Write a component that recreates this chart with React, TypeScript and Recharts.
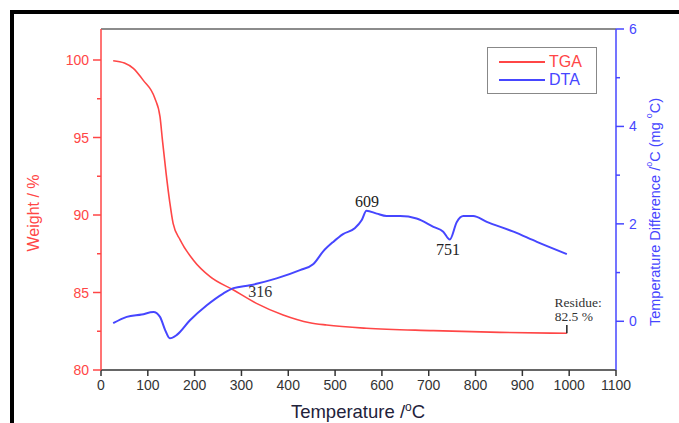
import React from "react";
import {
  ComposedChart,
  Line,
  XAxis,
  YAxis,
  Legend,
  ReferenceLine,
  ReferenceDot,
} from "recharts";

// TGA curve (weight %)
const tgaTemp = [26, 50, 69, 90, 115, 126, 131, 139, 147, 154, 169, 197, 233, 283, 332, 389, 446, 482, 567, 710, 852, 995];
const tgaWeight = [99.95, 99.8, 99.46, 98.7, 97.53, 96.34, 94.9, 92.7, 90.8, 89.46, 88.4, 87.1, 86.02, 85.16, 84.3, 83.55, 83.05, 82.9, 82.69, 82.54, 82.43, 82.37];

// DTA curve (temperature difference)
const dtaTemp = [26, 55, 87, 112, 126, 137, 147, 162, 190, 226, 261, 283, 318, 375, 425, 453, 475, 496, 517, 542, 557, 567, 589, 610, 639, 674, 710, 731, 745, 760, 774, 795, 824, 881, 931, 995];
const dtaDiff = [-0.04, 0.09, 0.14, 0.19, 0.09, -0.18, -0.35, -0.28, 0.02, 0.33, 0.57, 0.68, 0.74, 0.88, 1.05, 1.17, 1.44, 1.63, 1.79, 1.91, 2.08, 2.27, 2.21, 2.16, 2.16, 2.11, 1.94, 1.84, 1.68, 2.04, 2.16, 2.16, 2.04, 1.84, 1.63, 1.38];

const tempTicks = [0, 100, 200, 300, 400, 500, 600, 700, 800, 900, 1000, 1100];
const weightTicks = [80, 82.5, 85, 87.5, 90, 92.5, 95, 97.5, 100];
const diffTicks = [0, 1, 2, 3, 4, 5, 6];

// annotations, placed in data space
const dtaNotes = [
  { label: "609", t: 568, d: 2.47 },
  { label: "751", t: 741, d: 1.48 },
];
const tgaNotes = [
  { label: "316", t: 340, w: 85.1 },
  { label: "Residue:", t: 1019, w: 84.4 },
  { label: "82.5 %", t: 1010, w: 83.5 },
];
const residueMark = { t: 995, from: 82.37, to: 82.9 };

const tgaData = tgaTemp.map((t, i) => ({ t, w: tgaWeight[i] }));
const dtaData = dtaTemp.map((t, i) => ({ t, d: dtaDiff[i] }));

const RED = "#ff4646";
const BLUE = "#4646ff";
const SANS = "'Liberation Sans', Arial, sans-serif";
const SERIF = "'Liberation Serif', 'Times New Roman', serif";

function LeftTick(props: any) {
  const { x, y, payload } = props;
  const axisX = x + 12;
  const major = payload.value % 5 === 0;
  return (
    <g>
      <line x1={axisX - (major ? 8 : 4)} x2={axisX} y1={y} y2={y} stroke={RED} strokeWidth={1.5} />
      {major && (
        <text x={x} y={y} dy={5} textAnchor="end" fill={RED} fontSize={14} fontFamily={SANS}>
          {payload.value}
        </text>
      )}
    </g>
  );
}

function RightTick(props: any) {
  const { x, y, payload } = props;
  const axisX = x - 13;
  const major = payload.value % 2 === 0;
  return (
    <g>
      <line x1={axisX} x2={axisX + (major ? 8 : 4)} y1={y} y2={y} stroke={BLUE} strokeWidth={1.5} />
      {major && (
        <text x={x} y={y} dy={5} textAnchor="start" fill={BLUE} fontSize={14} fontFamily={SANS}>
          {payload.value}
        </text>
      )}
    </g>
  );
}

function LegendBox() {
  const items = [
    { name: "TGA", color: RED },
    { name: "DTA", color: BLUE },
  ];
  return (
    <div
      style={{
        width: 110,
        height: 47,
        boxSizing: "border-box",
        border: "1.5px solid #888",
        background: "#fff",
        position: "relative",
      }}
    >
      {items.map((it, i) => (
        <div
          key={it.name}
          style={{ position: "absolute", left: 11, top: 5 + i * 18, height: 18, display: "flex", alignItems: "center" }}
        >
          <div style={{ width: 46, height: 2, background: it.color }} />
          <span style={{ marginLeft: 4, color: it.color, fontSize: 16, fontFamily: SANS }}>{it.name}</span>
        </div>
      ))}
    </div>
  );
}

export default function App() {
  return (
    <div style={{ position: "absolute", left: 0, top: 0, width: 679, height: 423, background: "#fff" }}>
      <ComposedChart width={679} height={423} margin={{ top: 29, right: 23, bottom: 23, left: 61 }}>
        <XAxis
          xAxisId="t"
          type="number"
          dataKey="t"
          domain={[0, 1100]}
          ticks={tempTicks}
          height={30}
          stroke="#333"
          strokeWidth={1.5}
          tickSize={6}
          tickMargin={4}
          tick={{ fill: "#333", fontSize: 14, fontFamily: SANS }}
        />
        <YAxis
          yAxisId="left"
          type="number"
          domain={[80, 102]}
          ticks={weightTicks}
          width={40}
          stroke={RED}
          strokeWidth={1.5}
          tickLine={false}
          tickSize={8}
          tickMargin={4}
          tick={<LeftTick />}
          interval={0}
        />
        <YAxis
          yAxisId="right"
          orientation="right"
          type="number"
          domain={[-1, 6]}
          ticks={diffTicks}
          width={40}
          stroke={BLUE}
          strokeWidth={1.5}
          tickLine={false}
          tickSize={8}
          tickMargin={5}
          tick={<RightTick />}
          interval={0}
        />
        <ReferenceLine xAxisId="t" yAxisId="left" y={102} stroke="#666" strokeWidth={1.5} />
        <Line
          xAxisId="t"
          yAxisId="left"
          data={tgaData}
          dataKey="w"
          name="TGA"
          type="monotone"
          stroke={RED}
          strokeWidth={1.6}
          dot={false}
          isAnimationActive={false}
        />
        <Line
          xAxisId="t"
          yAxisId="right"
          data={dtaData}
          dataKey="d"
          name="DTA"
          type="monotone"
          stroke={BLUE}
          strokeWidth={2}
          dot={false}
          isAnimationActive={false}
        />
        <ReferenceLine
          xAxisId="t"
          yAxisId="left"
          segment={[
            { x: residueMark.t, y: residueMark.from },
            { x: residueMark.t, y: residueMark.to },
          ]}
          stroke="#222"
          strokeWidth={1.5}
        />
        {dtaNotes.map((n) => (
          <ReferenceDot
            key={n.label}
            xAxisId="t"
            yAxisId="right"
            x={n.t}
            y={n.d}
            r={0}
            fill="none"
            stroke="none"
            label={{ value: n.label, position: "center", fill: "#222", fontSize: 16, fontFamily: SERIF }}
          />
        ))}
        {tgaNotes.map((n) => (
          <ReferenceDot
            key={n.label}
            xAxisId="t"
            yAxisId="left"
            x={n.t}
            y={n.w}
            r={0}
            fill="none"
            stroke="none"
            label={{
              value: n.label,
              position: "center",
              fill: "#333",
              fontSize: n.label === "316" ? 16 : 13.5,
              fontFamily: SERIF,
            }}
          />
        ))}
        <Legend
          layout="vertical"
          align="center"
          verticalAlign="middle"
          content={<LegendBox />}
          wrapperStyle={{ left: 487, top: 47, width: 110, height: 47 }}
        />
      </ComposedChart>
      <svg
        width={679}
        height={423}
        style={{ position: "absolute", left: 0, top: 0, pointerEvents: "none" }}
      >
        <path d="M12 423 V12 H679" stroke="#000" strokeWidth={4} fill="none" />
        <text
          x={33}
          y={213}
          transform="rotate(-90 33 213)"
          textAnchor="middle"
          dominantBaseline="central"
          fill={RED}
          fontSize={16}
          fontFamily={SANS}
        >
          Weight / %
        </text>
        <text
          x={655}
          y={212}
          transform="rotate(-90 655 212)"
          textAnchor="middle"
          dominantBaseline="central"
          fill={BLUE}
          fontSize={14.5}
          fontFamily={SANS}
        >
          Temperature Difference /
          <tspan dy={-6} fontSize={9}>o</tspan>
          <tspan dy={6}>C (mg </tspan>
          <tspan dy={-6} fontSize={9}>o</tspan>
          <tspan dy={6}>C)</tspan>
        </text>
        <text x={358} y={418} textAnchor="middle" fill="#22223a" fontSize={18.5} fontFamily={SANS}>
          Temperature /
          <tspan dy={-7} fontSize={12}>o</tspan>
          <tspan dy={7}>C</tspan>
        </text>
      </svg>
    </div>
  );
}
